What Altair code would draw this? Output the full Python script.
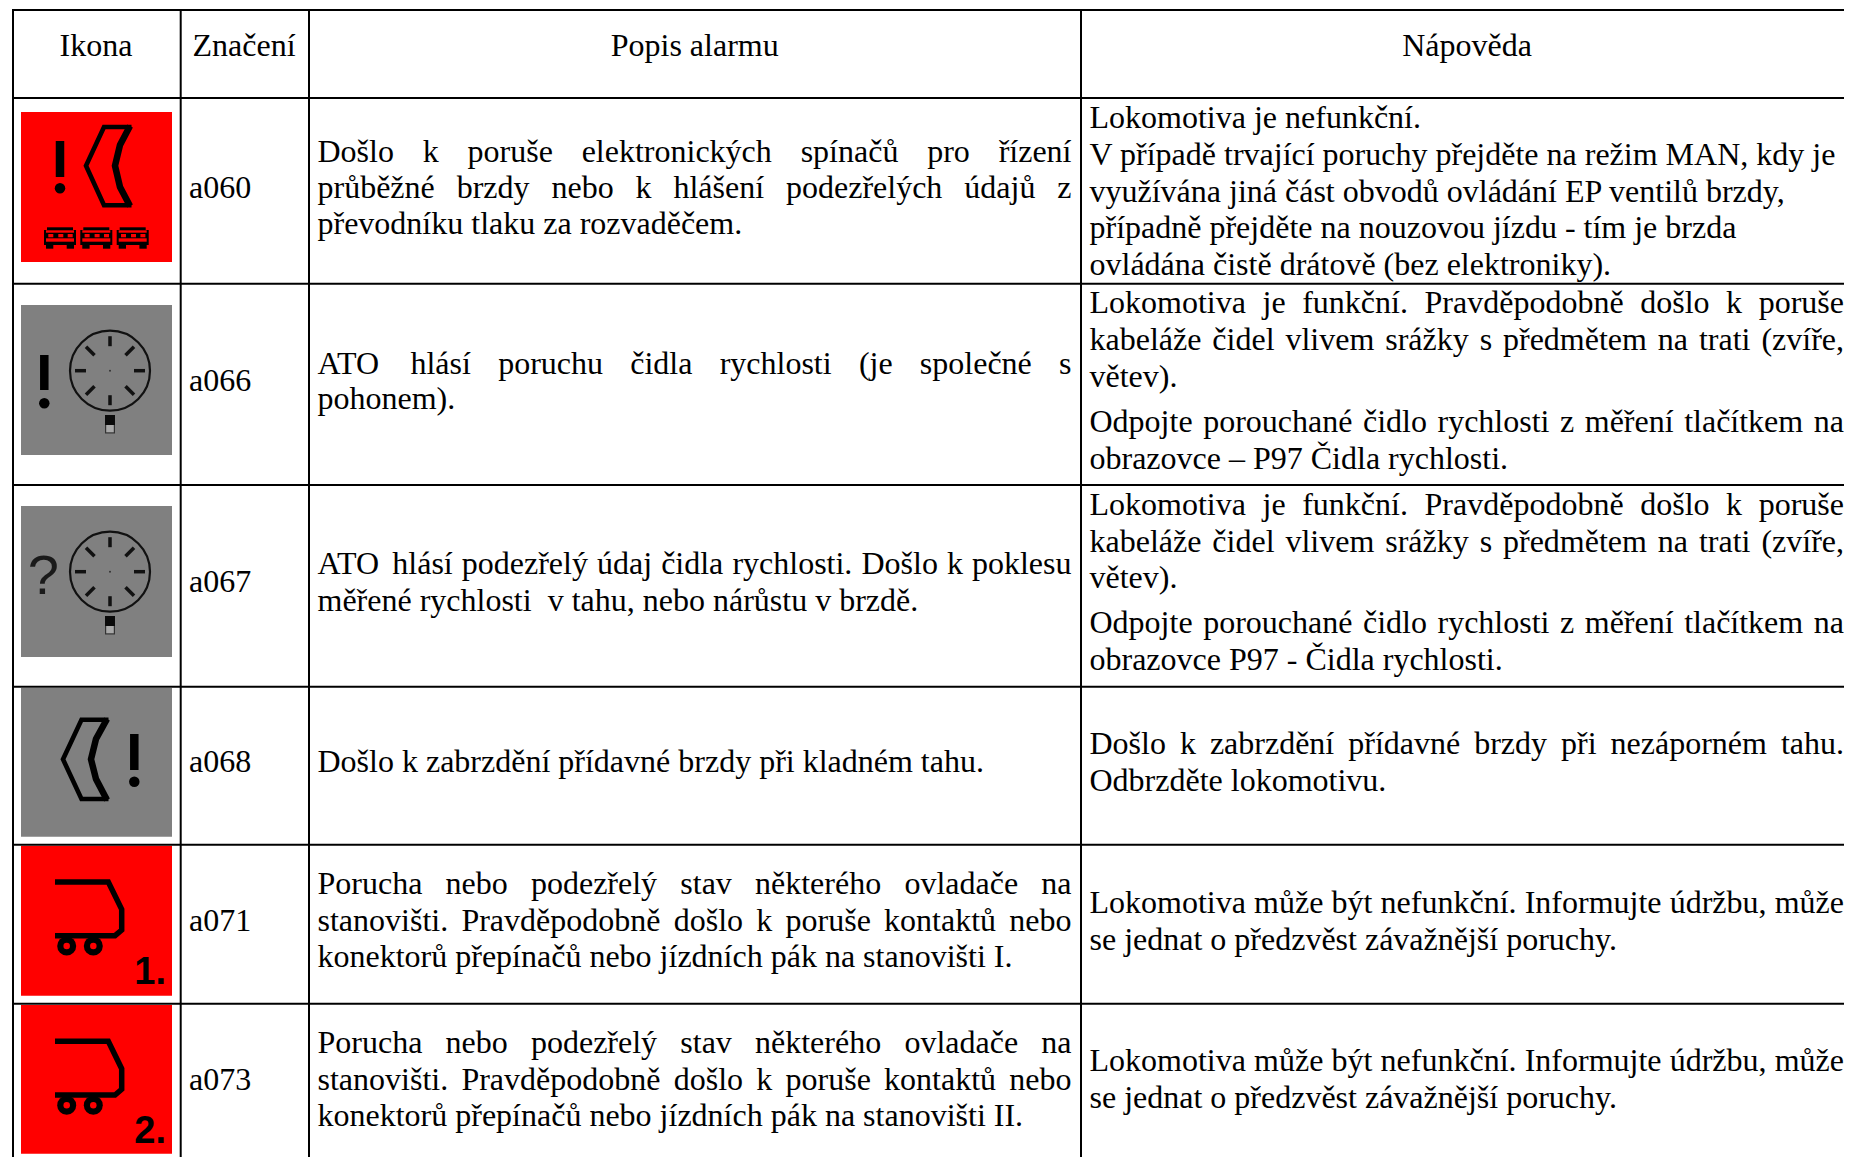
import unicodedata
import altair as alt
import pandas as pd

# ---------------- table content ----------------
HEADERS = ["Ikona", "Značení", "Popis alarmu", "Nápověda"]
CODES = ["a060", "a066", "a067", "a068", "a071", "a073"]

# (line text, justified?)
DESC_A060 = [("Došlo k poruše elektronických spínačů pro řízení", True),
             ("průběžné brzdy nebo k hlášení podezřelých údajů z", True),
             ("převodníku tlaku za rozvaděčem.", False)]
DESC_A066 = [("ATO hlásí poruchu čidla rychlosti (je společné s", True),
             ("pohonem).", False)]
DESC_A067 = [("ATO hlásí podezřelý údaj čidla rychlosti. Došlo k poklesu", True),
             ("měřené rychlosti\u00a0 v tahu, nebo nárůstu v brzdě.", False)]
DESC_A068 = [("Došlo k zabrzdění přídavné brzdy při kladném tahu.", False)]
DESC_A071 = [("Porucha nebo podezřelý stav některého ovladače na", True),
             ("stanovišti. Pravděpodobně došlo k poruše kontaktů nebo", True),
             ("konektorů přepínačů nebo jízdních pák na stanovišti I.", False)]
DESC_A073 = [("Porucha nebo podezřelý stav některého ovladače na", True),
             ("stanovišti. Pravděpodobně došlo k poruše kontaktů nebo", True),
             ("konektorů přepínačů nebo jízdních pák na stanovišti II.", False)]

HELP_A060 = [("Lokomotiva je nefunkční.", False),
             ("V případě trvající poruchy přejděte na režim MAN, kdy je", False),
             ("využívána jiná část obvodů ovládání EP ventilů brzdy,", False),
             ("případně přejděte na nouzovou jízdu - tím je brzda", False),
             ("ovládána čistě drátově (bez elektroniky).", False)]
HELP_A066 = [("Lokomotiva je funkční. Pravděpodobně došlo k poruše", True),
             ("kabeláže čidel vlivem srážky s předmětem na trati (zvíře,", True),
             ("větev).", False),
             ("Odpojte porouchané čidlo rychlosti z měření tlačítkem na", True),
             ("obrazovce – P97 Čidla rychlosti.", False)]
HELP_A067 = [("Lokomotiva je funkční. Pravděpodobně došlo k poruše", True),
             ("kabeláže čidel vlivem srážky s předmětem na trati (zvíře,", True),
             ("větev).", False),
             ("Odpojte porouchané čidlo rychlosti z měření tlačítkem na", True),
             ("obrazovce P97 - Čidla rychlosti.", False)]
HELP_A068 = [("Došlo k zabrzdění přídavné brzdy při nezáporném tahu.", True),
             ("Odbrzděte lokomotivu.", False)]
HELP_A071 = [("Lokomotiva může být nefunkční. Informujte údržbu, může", True),
             ("se jednat o předzvěst závažnější poruchy.", False)]
HELP_A073 = HELP_A071

DESCS = [DESC_A060, DESC_A066, DESC_A067, DESC_A068, DESC_A071, DESC_A073]
HELPS = [HELP_A060, HELP_A066, HELP_A067, HELP_A068, HELP_A071, HELP_A073]

# ---------------- layout (reference pixels) ----------------
COL_LINES = [13, 180.7, 309, 1081]
ROW_LINES = [10, 98, 283.7, 485, 686.7, 844.7, 1003.7]
HEADER_X = [96, 244, 694.7, 1467]
HEADER_Y = 56
CODE_X = 189
CODE_Y = [198, 391, 592, 772, 931, 1089.7]
DESC_X = (317.5, 1071.5)
HELP_X = (1089.5, 1844)
DESC_Y = [[161.7, 198.3, 234.3], [373.7, 409.3], [574, 610.7], [771.7],
          [894.3, 930.7, 966.7], [1053, 1090.3, 1125.5]]
HELP_Y = [[128.3, 165, 201.7, 237.7, 274.5], [312.7, 349.5, 387, 431.7, 469],
          [515, 551.7, 588.3, 632.7, 670], [754, 790.7],
          [912.7, 949.7], [1070.7, 1108]]
ICON_X = 21
ICON_WIDTH = 151
ICON_TOP = [112, 305, 506, 688, 845.7, 1005]
ICON_BOTTOM = [262, 455, 657, 836.7, 995.7, 1153.7]
ICON_BG = ["#ff0000", "#808080", "#808080", "#808080", "#ff0000", "#ff0000"]

FONT = "Liberation Serif"
FONT_SIZE = 32
WIDTH, HEIGHT = 1836, 1149

# Times advance widths, per 1000 em
ADV = dict(zip("abcdefghijklmnopqrstuvwxyz",
               [444, 500, 444, 500, 444, 333, 500, 500, 278, 278, 500, 278, 778,
                500, 500, 500, 500, 333, 389, 278, 500, 500, 722, 500, 500, 444]))
ADV.update(zip("ABCDEFGHIJKLMNOPQRSTUVWXYZ",
               [722, 667, 667, 722, 611, 556, 722, 722, 333, 389, 722, 611, 889,
                722, 722, 556, 722, 667, 556, 611, 722, 722, 944, 722, 722, 611]))
ADV.update({".": 250, ",": 250, "(": 333, ")": 333, "-": 333, "–": 500})


def word_width(w):
    total = 0
    for ch in w:
        base = unicodedata.normalize("NFD", ch)[0]
        total += ADV.get(base, 500)
    return total * FONT_SIZE / 1000


def place(lines, ys, extent, out):
    left, right = extent
    for (text, justified), y in zip(lines, ys):
        if not justified:
            out.append({"t": text, "x": left, "y": y})
            continue
        words = text.split(" ")
        widths = [word_width(w) for w in words]
        gap = (right - left - sum(widths)) / (len(words) - 1)
        x = left
        for w, wd in zip(words, widths):
            out.append({"t": w, "x": x, "y": y})
            x += wd + gap


body = []
for i in range(len(CODES)):
    body.append({"t": CODES[i], "x": CODE_X, "y": CODE_Y[i]})
    place(DESCS[i], DESC_Y[i], DESC_X, body)
    place(HELPS[i], HELP_Y[i], HELP_X, body)
body_df = pd.DataFrame(body)
head_df = pd.DataFrame({"t": HEADERS, "x": HEADER_X, "y": [HEADER_Y] * 4})

X = alt.X("x:Q", scale=alt.Scale(domain=[8, 8 + WIDTH], nice=False, zero=False), axis=None)
Y = alt.Y("y:Q", scale=alt.Scale(domain=[8 + HEIGHT, 8], nice=False, zero=False), axis=None)

# ---------------- icon drawings, in icon-local pixels ----------------
rects, lines, dots, rings, glyphs = [], [], [], [], []
line_id = [0]


def add_rect(i, x, x2, y, y2, c):
    ox, oy = ICON_X, ICON_TOP[i]
    rects.append({"x": ox + x, "x2": ox + x2, "y": oy + y, "y2": oy + y2, "c": c})


def add_line(i, pts, w, c="#000000"):
    ox, oy = ICON_X, ICON_TOP[i]
    line_id[0] += 1
    for k, (px, py) in enumerate(pts):
        lines.append({"id": line_id[0], "k": k, "x": ox + px, "y": oy + py, "w": w, "c": c})


def add_dot(i, x, y, d, c="#000000"):
    dots.append({"x": ICON_X + x, "y": ICON_TOP[i] + y, "s": d * d, "c": c})


def bang(i, x, y0, y1, yd):
    add_line(i, [(x, y0), (x, y1)], 8.5)
    add_dot(i, x, yd, 10.5)


TRAIN_DX = [0, 36.3, 72.7]
for dx in TRAIN_DX:
    add_rect(0, 26 + dx, 52 + dx, 115.3, 118.5, "#000000")
    add_rect(0, 23 + dx, 55 + dx, 118, 133, "#000000")
    add_rect(0, 25 + dx, 53 + dx, 118.3, 120.7, "#ff0000")
    add_rect(0, 25 + dx, 53 + dx, 126.3, 129.7, "#ff0000")
    for wx in [4.3, 14.3, 23.7]:
        add_rect(0, 23 + dx + wx, 28 + dx + wx, 122, 125.3, "#ff0000")
    add_rect(0, 25 + dx, 32.3 + dx, 133, 136.7, "#000000")
    add_rect(0, 45.7 + dx, 53 + dx, 133, 136.7, "#000000")

add_line(0, [(110.5, 15), (83, 15), (65, 53.7), (83, 93.3), (110.5, 93.3)], 4.6)
add_line(0, [(109, 94), (99, 75), (94, 53.7), (99, 33), (109, 14)], 6.5)
bang(0, 39, 29, 65, 76.3)

add_line(3, [(87.5, 31.7), (60.5, 31.7), (42, 71.3), (60.5, 111), (87.5, 111)], 4.6)
add_line(3, [(86, 112), (75, 91), (70, 71.3), (75, 51), (86, 31)], 6.5)
bang(3, 113.3, 46, 82, 93.7)

CLOCK_TICKS = [(0, -34.5, 0, -24.5), (0, 34.5, 0, 24.5), (-35, 0, -24, 0), (35, 0, 24, 0),
               (-24, -24, -15.5, -15.5), (24, -24, 15.5, -15.5),
               (-24, 24, -15.5, 15.5), (24, 24, 15.5, 15.5)]
for i in (1, 2):
    rings.append({"x": ICON_X + 89, "y": ICON_TOP[i] + 65.7, "s": 80 * 80})
    for a, b, c, d in CLOCK_TICKS:
        add_line(i, [(89 + a, 65.7 + b), (89 + c, 65.7 + d)], 3.5, "#111111")
    add_dot(i, 89, 65.7, 2, "#333333")
    add_rect(i, 84, 94, 110, 120, "#0a0a0a")
    add_rect(i, 84, 94, 120, 128.5, "#333333")
    add_rect(i, 85.2, 92.8, 120, 127.3, "#a8a8a8")
bang(1, 23.3, 50, 85, 98.3)
glyphs.append({"t": "?", "x": ICON_X + 22.3, "y": ICON_TOP[2] + 88, "a": "center", "w": "normal"})

for i, label in ((4, "1."), (5, "2.")):
    add_line(i, [(34, 36.3), (87.3, 36.3), (100.7, 63.7), (100.7, 84.3), (94, 90), (34, 90)], 5.5)
    for wx in (45.7, 72.3):
        add_dot(i, wx, 100.3, 19)
        add_dot(i, wx, 100.3, 6.5, "#ff0000")
    glyphs.append({"t": label, "x": ICON_X + 145, "y": ICON_TOP[i] + 138.3, "a": "right", "w": "bold"})

bg_df = pd.DataFrame({"x": [ICON_X] * 6, "x2": [ICON_X + ICON_WIDTH] * 6,
                      "y": ICON_TOP, "y2": ICON_BOTTOM, "c": ICON_BG})
rect_df = pd.DataFrame(rects)
line_df = pd.DataFrame(lines)
dot_df = pd.DataFrame(dots)
ring_df = pd.DataFrame(rings)
glyph_df = pd.DataFrame(glyphs)

vgrid = pd.DataFrame({"x": COL_LINES, "y": [9] * 4, "y2": [1157] * 4})
hgrid = pd.DataFrame({"x": [12] * 7, "x2": [1852] * 7, "y": ROW_LINES})

C = alt.Color("c:N", scale=None)

layers = [
    alt.Chart(bg_df).mark_rect().encode(X, Y, x2="x2:Q", y2="y2:Q", color=C),
    alt.Chart(rect_df).mark_rect().encode(X, Y, x2="x2:Q", y2="y2:Q", color=C),
    alt.Chart(ring_df).mark_point(shape="circle", filled=False, strokeWidth=2.2,
                                  color="#111111", opacity=1).encode(
        X, Y, size=alt.Size("s:Q", scale=None)),
    alt.Chart(line_df).mark_line(strokeCap="butt", strokeJoin="miter").encode(
        X, Y, detail="id:N", order="k:Q", color=C,
        size=alt.Size("w:Q", scale=None)),
    alt.Chart(dot_df).mark_point(shape="circle", filled=True, opacity=1, strokeWidth=0).encode(
        X, Y, size=alt.Size("s:Q", scale=None), color=C),
    alt.Chart(glyph_df[glyph_df.a == "center"]).mark_text(
        font="Liberation Sans", fontSize=56, baseline="alphabetic", align="center",
        color="#1a1a1a").encode(X, Y, text="t:N"),
    alt.Chart(glyph_df[glyph_df.a == "right"]).mark_text(
        font="Liberation Sans", fontSize=38, fontWeight="bold", baseline="alphabetic",
        align="right", color="#000000").encode(X, Y, text="t:N"),
    alt.Chart(vgrid).mark_rule(color="#000000", strokeWidth=2).encode(X, Y, y2="y2:Q"),
    alt.Chart(hgrid).mark_rule(color="#000000", strokeWidth=2).encode(X, Y, x2="x2:Q"),
    alt.Chart(head_df).mark_text(font=FONT, fontSize=FONT_SIZE, baseline="alphabetic",
                                 align="center", color="#000000").encode(X, Y, text="t:N"),
    alt.Chart(body_df).mark_text(font=FONT, fontSize=FONT_SIZE, baseline="alphabetic",
                                 align="left", color="#000000").encode(X, Y, text="t:N"),
]

chart = alt.layer(*layers).properties(
    width=WIDTH, height=HEIGHT, padding=0,
    autosize=alt.AutoSizeParams(type="none"),
).configure_view(stroke=None)

chart.save("out.html", embed_options={"renderer": "svg", "actions": False})
